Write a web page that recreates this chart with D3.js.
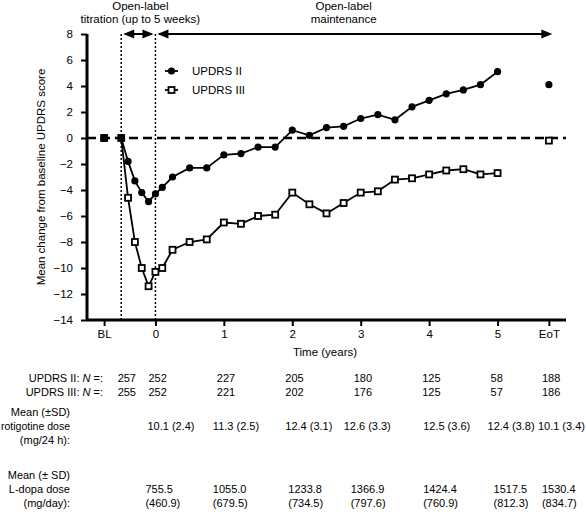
<!DOCTYPE html>
<html><head><meta charset="utf-8">
<script src="https://cdn.jsdelivr.net/npm/d3@7"></script>
<style>
body{margin:0;background:#fff;}
svg{display:block;}
text{font-family:"Liberation Sans",Arial,sans-serif;fill:#000;}
</style></head>
<body><div id="chart"></div>
<script>
// ---- data ----
const times = [-0.5,-0.4,-0.3,-0.2,-0.1,0,0.1,0.25,0.5,0.75,1,1.25,1.5,1.75,2,2.25,2.5,2.75,3,3.25,3.5,3.75,4,4.25,4.5,4.75,5];
const updrsII = [0,-1.8,-3.3,-4.2,-4.9,-4.3,-3.8,-3.0,-2.3,-2.3,-1.3,-1.2,-0.7,-0.7,0.6,0.2,0.8,0.9,1.5,1.8,1.4,2.4,2.9,3.4,3.7,4.1,5.1];
const updrsIII = [0,-4.6,-8.0,-10.0,-11.4,-10.3,-10.0,-8.6,-8.0,-7.8,-6.5,-6.6,-6.0,-5.9,-4.2,-5.1,-5.8,-5.0,-4.2,-4.1,-3.2,-3.1,-2.8,-2.5,-2.4,-2.8,-2.7];
const blValues = {II: 0, III: 0};
const eotValues = {II: 4.1, III: -0.2};
const xTickValues = [-0.75, 0, 1, 2, 3, 4, 5, 5.75];
const xTickLabels = ["BL", "0", "1", "2", "3", "4", "5", "EoT"];
const yTicks = [-14,-12,-10,-8,-6,-4,-2,0,2,4,6,8];
const nCols = [-0.45, 0, 1, 2, 3, 4, 5, 5.75];
const nII = [257, 252, 227, 205, 180, 125, 58, 188];
const nIII = [255, 252, 221, 202, 176, 125, 57, 186];
const doseCols = [0, 1, 2, 3, 4, 5, 5.75];
const rotigotine = ["10.1 (2.4)","11.3 (2.5)","12.4 (3.1)","12.6 (3.3)","12.5 (3.6)","12.4 (3.8)","10.1 (3.4)"];
const ldopaMean = ["755.5","1055.0","1233.8","1366.9","1424.4","1517.5","1530.4"];
const ldopaSD = ["(460.9)","(679.5)","(734.5)","(797.6)","(760.9)","(812.3)","(834.7)"];

// ---- layout ----
const W = 586, H = 512;
const svg = d3.select("#chart").append("svg").attr("width", W).attr("height", H);
const x = d3.scaleLinear().domain([-1, 6]).range([87, 566]);
const y = d3.scaleLinear().domain([-14, 8]).range([320, 34]);
const FS = "11.5px";
const TFS = "11px";

// y axis
const yAxis = svg.append("g").attr("transform", `translate(${x(-1)},0)`)
  .call(d3.axisLeft(y).tickValues(yTicks).tickSize(6).tickPadding(8));
// x axis
const xAxis = svg.append("g").attr("transform", `translate(0,${y(-14)})`)
  .call(d3.axisBottom(x).tickValues(xTickValues).tickSize(6).tickPadding(4)
    .tickFormat((d,i) => xTickLabels[i]));
[yAxis, xAxis].forEach(g => {
  g.select(".domain").attr("stroke", "#000").attr("stroke-width", 3);
  g.selectAll(".tick line").attr("stroke", "#000").attr("stroke-width", 2);
  g.selectAll(".tick text").attr("font-size", FS).attr("font-family", '"Liberation Sans",Arial,sans-serif');
});
xAxis.select(".domain").attr("d", `M${x(-1)},0H${x(6)}`);
yAxis.select(".domain").attr("d", `M0,${y(8)}V${y(-14)}`);

// zero dashed line
svg.append("line").attr("x1", x(-1)).attr("x2", x(6)).attr("y1", y(0)).attr("y2", y(0))
  .attr("stroke", "#000").attr("stroke-width", 2.5).attr("stroke-dasharray", "9,5");

// dotted vertical lines
[-0.5, 0].forEach(t => {
  svg.append("line").attr("x1", x(t)).attr("x2", x(t)).attr("y1", y(8)).attr("y2", y(-14))
    .attr("stroke", "#000").attr("stroke-width", 1.5).attr("stroke-dasharray", "2,2");
});

// arrows
function arrowHead(tipX, tipY, dir) {
  const L = 11, Hh = 4.5;
  svg.append("path").attr("d", `M${tipX},${tipY}L${tipX - dir*L},${tipY - Hh}L${tipX - dir*L},${tipY + Hh}Z`).attr("fill", "#000");
}
const ay = y(8);
svg.append("line").attr("x1", x(-0.5)+4).attr("x2", x(0)-4).attr("y1", ay).attr("y2", ay).attr("stroke", "#000").attr("stroke-width", 2);
arrowHead(x(-0.5)+2, ay, -1);
arrowHead(x(0)-2, ay, 1);
svg.append("line").attr("x1", x(0)+4).attr("x2", x(5.8)-4).attr("y1", ay).attr("y2", ay).attr("stroke", "#000").attr("stroke-width", 2);
arrowHead(x(0)+2, ay, -1);
arrowHead(x(5.8), ay, 1);

// phase titles
const titles = [
  {cx: x(-0.22), lines: ["Open-label", "titration (up to 5 weeks)"]},
  {cx: x(2.75), lines: ["Open-label", "maintenance"]}
];
titles.forEach(t => {
  t.lines.forEach((ln, i) => {
    svg.append("text").attr("x", t.cx).attr("y", 10 + i*13).attr("text-anchor", "middle")
      .attr("font-size", FS).text(ln);
  });
});

// series lines
const line = d3.line().x(d => x(d[0])).y(d => y(d[1]));
const seriesII = times.map((t, i) => [t, updrsII[i]]);
const seriesIII = times.map((t, i) => [t, updrsIII[i]]);
svg.append("path").attr("d", line(seriesIII)).attr("fill", "none").attr("stroke", "#000").attr("stroke-width", 1.8);
svg.append("path").attr("d", line(seriesII)).attr("fill", "none").attr("stroke", "#000").attr("stroke-width", 1.8);

function square(px, py) {
  svg.append("rect").attr("x", px - 3).attr("y", py - 3).attr("width", 6).attr("height", 6)
    .attr("fill", "#fff").attr("stroke", "#000").attr("stroke-width", 1.8);
}
function circle(px, py) {
  svg.append("circle").attr("cx", px).attr("cy", py).attr("r", 3.6).attr("fill", "#000");
}
seriesIII.forEach(d => square(x(d[0]), y(d[1])));
square(x(-0.75), y(blValues.III));
square(x(5.75), y(eotValues.III));
seriesII.forEach(d => circle(x(d[0]), y(d[1])));
circle(x(-0.75), y(blValues.II));
circle(x(5.75), y(eotValues.II));

// legend
const lg = [{label: "UPDRS II", type: "c", yy: 71}, {label: "UPDRS III", type: "s", yy: 90}];
lg.forEach(l => {
  svg.append("line").attr("x1", 165).attr("x2", 178).attr("y1", l.yy).attr("y2", l.yy).attr("stroke", "#000").attr("stroke-width", 1.8);
  if (l.type === "c") circle(171.5, l.yy); else square(171.5, l.yy);
  svg.append("text").attr("x", 192).attr("y", l.yy + 4).attr("font-size", FS).text(l.label);
});

// axis titles
svg.append("text").attr("transform", `translate(45,${(y(8)+y(-14))/2 + 0}) rotate(-90)`)
  .attr("text-anchor", "middle").attr("font-size", FS).text("Mean change from baseline UPDRS score");
svg.append("text").attr("x", 325).attr("y", 356).attr("text-anchor", "middle").attr("font-size", FS).text("Time (years)");

// helper: left-anchored text kept inside the right edge
function colText(px, py, s) {
  const t = svg.append("text").attr("x", px).attr("y", py).attr("font-size", TFS).text(s);
  const w = t.node().getComputedTextLength();
  if (px + w > W - 1) t.attr("x", W - 1 - w);
  return t;
}

// table: N rows
function nLabel(prefix, yy) {
  const t = svg.append("text").attr("x", 103).attr("y", yy).attr("text-anchor", "end").attr("font-size", TFS);
  t.append("tspan").text(prefix + " ");
  t.append("tspan").attr("font-style", "italic").text("N");
  t.append("tspan").text(" =:");
}
nLabel("UPDRS II:", 382);
nLabel("UPDRS III:", 396);
nCols.forEach((c, i) => {
  colText(x(c) - 7, 382, nII[i]);
  colText(x(c) - 7, 396, nIII[i]);
});

const rotOff = [-8, -11, -7, -17, -6, -10, -11];
["Mean (\u00B1SD)", "rotigotine dose", "(mg/24 h):"].forEach((s, i) => {
  const t = svg.append("text").attr("x", 70).attr("y", 416 + i*14).attr("text-anchor", "end").attr("font-size", TFS).text(s);
  const w = t.node().getComputedTextLength();
  if (w > 69) t.attr("textLength", 69).attr("lengthAdjust", "spacingAndGlyphs");
});
doseCols.forEach((c, i) => colText(x(c) + rotOff[i], 430, rotigotine[i]));

// L-dopa
const ldOff = [-10, -11, -4, -10, -6, -4, -7];
["Mean (\u00B1 SD)", "L-dopa dose", "(mg/day):"].forEach((s, i) => {
  svg.append("text").attr("x", 70).attr("y", 479 + i*14).attr("text-anchor", "end").attr("font-size", TFS).text(s);
});
doseCols.forEach((c, i) => {
  colText(x(c) + ldOff[i], 493, ldopaMean[i]);
  colText(x(c) + ldOff[i], 507, ldopaSD[i]);
});
</script>
</body></html>
